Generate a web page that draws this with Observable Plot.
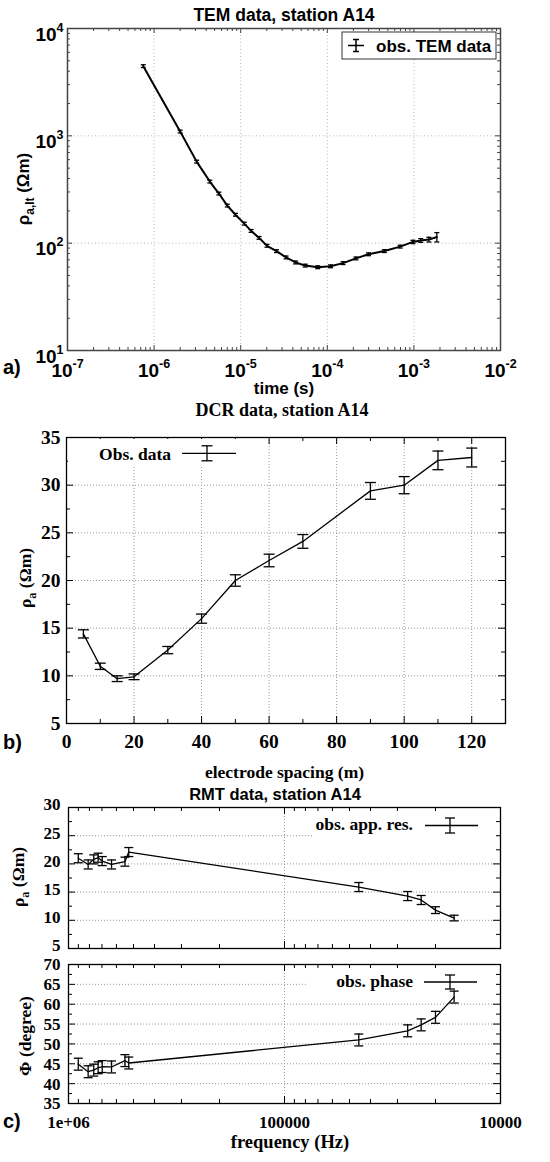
<!DOCTYPE html>
<html><head><meta charset="utf-8">
<script src="https://cdn.jsdelivr.net/npm/d3@7"></script>
<script src="https://cdn.jsdelivr.net/npm/@observablehq/plot@0.6"></script>
<style>
body{margin:0;background:#fff;}
#wrap{position:relative;width:550px;height:1162px;overflow:hidden;background:#fff;}
#wrap svg{position:absolute;left:0;background:transparent;overflow:visible;}
</style></head><body><div id="wrap"></div>
<script>
// ---------- DATA ----------
// TEM: time (s), apparent late-time resistivity (Ohm m), relative error
const temTime = [7.5e-7, 2.0e-6, 3.1e-6, 4.4e-6, 5.6e-6, 7.0e-6, 8.7e-6, 1.10e-5, 1.32e-5, 1.63e-5, 2.01e-5, 2.59e-5, 3.34e-5, 4.30e-5, 5.55e-5, 7.76e-5, 1.09e-4, 1.52e-4, 2.14e-4, 2.99e-4, 4.56e-4, 6.95e-4, 9.75e-4, 1.20e-3, 1.49e-3, 1.84e-3];
const temRho  = [4460, 1096, 575, 375, 290, 224, 184, 152, 130, 112, 94.6, 84.3, 73.6, 66.1, 61.8, 59.7, 60.9, 65.2, 72.1, 78.8, 84.4, 92.9, 102.7, 106, 108, 114];
const temErr  = [0.03, 0.03, 0.03, 0.03, 0.03, 0.03, 0.03, 0.03, 0.03, 0.03, 0.03, 0.03, 0.03, 0.03, 0.03, 0.03, 0.03, 0.03, 0.03, 0.03, 0.03, 0.03, 0.035, 0.04, 0.05, 0.1];

// DCR: electrode spacing (m), apparent resistivity (Ohm m), error
const dcrSpacing = [5, 10, 15, 20, 30, 40, 50, 60, 70, 90, 100, 110, 120];
const dcrRho     = [14.4, 11.0, 9.7, 9.9, 12.7, 16.0, 20.0, 22.1, 24.1, 29.4, 30.0, 32.6, 32.9];
const dcrErr     = [0.43, 0.33, 0.3, 0.3, 0.38, 0.48, 0.6, 0.66, 0.72, 0.88, 0.9, 0.98, 0.99];

// RMT: frequency (Hz), apparent resistivity, phase
const rmtFreq     = [901000, 811000, 764000, 729000, 698000, 632000, 548000, 526000, 45300, 26900, 23300, 20000, 16400];
const rmtRho      = [21.0, 19.9, 20.8, 21.1, 20.5, 19.9, 20.4, 22.1, 15.9, 14.3, 13.6, 11.8, 10.4];
const rmtRhoErr   = [0.8, 0.8, 0.8, 0.8, 0.8, 0.8, 0.8, 0.8, 0.8, 0.8, 0.8, 0.6, 0.5];
const rmtPhase    = [44.9, 43.0, 43.4, 44.0, 44.3, 44.2, 45.8, 45.2, 51.0, 53.3, 54.8, 56.7, 61.8];
const rmtPhaseErr = [1.5, 1.5, 1.5, 1.5, 1.5, 1.5, 1.5, 1.5, 1.5, 1.5, 1.5, 1.5, 1.5];

// tick values
const temXExp = [-7, -2], temYExp = [1, 4];
const dcrXMajor = [0, 20, 40, 60, 80, 100, 120], dcrXMinor = [10, 30, 50, 70, 90, 110];
const dcrYMajor = [5, 10, 15, 20, 25, 30, 35], dcrYMinor = [7.5, 12.5, 17.5, 22.5, 27.5, 32.5];
const rmtXMajor = [1e6, 1e5, 1e4];
const resYMajor = [5, 10, 15, 20, 25, 30], resYMinor = [7.5, 12.5, 17.5, 22.5, 27.5];
const phYMajor = [35, 40, 45, 50, 55, 60, 65, 70], phYMinor = [37.5, 42.5, 47.5, 52.5, 57.5, 62.5, 67.5];

// ---------- HELPERS ----------
const wrap = document.getElementById("wrap");
const NS = "http://www.w3.org/2000/svg";
function place(svg, top){ svg.style.top = top + "px"; wrap.appendChild(svg); return svg; }
function logTicks(lo, hi){ const maj=[], min=[]; for(let e=lo;e<hi;e++){ maj.push(Math.pow(10,e)); for(let k=2;k<=9;k++) min.push(k*Math.pow(10,e)); } maj.push(Math.pow(10,hi)); return {maj, min}; }
const cap = {draw(ctx, size){ const r = Math.sqrt(size/Math.PI); ctx.moveTo(-r,0); ctx.lineTo(r,0); }};
function frameTicks(xMaj, xMin, yMaj, yMin, fw, fh, L, l, stroke){
  const o = {stroke, strokeWidth: 1};
  return [
    Plot.tickX(xMaj, {...o, insetTop: fh - L}), Plot.tickX(xMaj, {...o, insetBottom: fh - L}),
    Plot.tickX(xMin, {...o, insetTop: fh - l}), Plot.tickX(xMin, {...o, insetBottom: fh - l}),
    Plot.tickY(yMaj, {...o, insetRight: fw - L}), Plot.tickY(yMaj, {...o, insetLeft: fw - L}),
    Plot.tickY(yMin, {...o, insetRight: fw - l}), Plot.tickY(yMin, {...o, insetLeft: fw - l})
  ];
}
function errMarks(rows, x, y, w, r){
  return [
    Plot.ruleX(rows, {x, y1: "lo", y2: "hi", stroke: "black", strokeWidth: w}),
    Plot.dot(rows, {x, y: "lo", symbol: cap, r, stroke: "black", strokeWidth: w, fill: "none"}),
    Plot.dot(rows, {x, y: "hi", symbol: cap, r, stroke: "black", strokeWidth: w, fill: "none"})
  ];
}
function superscripts(svg, size, rise){
  svg.querySelectorAll('g[aria-label="x-axis tick label"] text, g[aria-label="y-axis tick label"] text').forEach(t => {
    const s = t.textContent, i = s.indexOf("^"); if (i < 0) return;
    while (t.firstChild) t.removeChild(t.firstChild);
    t.appendChild(document.createTextNode(s.slice(0, i)));
    const ts = document.createElementNS(NS, "tspan");
    ts.setAttribute("dy", -rise); ts.setAttribute("font-size", size + "px");
    ts.textContent = s.slice(i + 1); t.appendChild(ts);
  });
}
function shiftGroup(svg, label, dx, dy){
  svg.querySelectorAll(`g[aria-label="${label}"]`).forEach(g => {
    g.setAttribute("transform", (g.getAttribute("transform") || "") + ` translate(${dx},${dy})`);
  });
}

// ---------- PANEL A: TEM ----------
{
  const W = 550, H = 400, mL = 67, mR = 50, mT = 28, mB = 50;
  const fw = W - mL - mR, fh = H - mT - mB;
  const tx = logTicks(temXExp[0], temXExp[1]), ty = logTicks(temYExp[0], temYExp[1]);
  const rows = temTime.map((t, i) => ({t, rho: temRho[i], lo: temRho[i]*(1 - temErr[i]), hi: temRho[i]*(1 + temErr[i])}));
  const grid = {stroke: "#b5b5b5", strokeWidth: 1, strokeDasharray: "1,2.5"};
  const svg = Plot.plot({
    width: W, height: H, marginLeft: mL, marginRight: mR, marginTop: mT, marginBottom: mB,
    x: {type: "log", domain: [1e-7, 1e-2], axis: null},
    y: {type: "log", domain: [10, 1e4], axis: null},
    style: {fontFamily: "'Liberation Sans', Arial, sans-serif", fontSize: "19px", fontWeight: "bold", color: "black", background: "transparent", overflow: "visible"},
    marks: [
      Plot.ruleX(tx.maj.slice(1, -1), grid),
      Plot.ruleY(ty.maj.slice(1, -1), grid),
      ...frameTicks(tx.maj, tx.min, ty.maj, ty.min, fw, fh, 5, 3, "#444"),
      Plot.line(rows, {x: "t", y: "rho", stroke: "black", strokeWidth: 2}),
      ...errMarks(rows, "t", "rho", 1.3, 2.5),
      Plot.frame({stroke: "#444", strokeWidth: 1.5}),
      Plot.axisX(tx.maj, {anchor: "bottom", tickSize: 0, tickPadding: 13, label: null, tickFormat: d => "10^" + Math.round(Math.log10(d))}),
      Plot.axisY(ty.maj, {anchor: "left", tickSize: 0, tickPadding: 4, label: null, tickFormat: d => "10^" + Math.round(Math.log10(d))})
    ]
  });
  place(svg, 0);
  superscripts(svg, 12.5, 9);
  shiftGroup(svg, "y-axis tick label", 0, 6);
}

// ---------- PANEL B: DCR ----------
{
  const W = 550, H = 400, mL = 66, mR = 45, mT = 57, mB = 57;
  const fw = W - mL - mR, fh = H - mT - mB;
  const rows = dcrSpacing.map((a, i) => ({a, rho: dcrRho[i], lo: dcrRho[i] - dcrErr[i], hi: dcrRho[i] + dcrErr[i]}));
  const grid = {stroke: "#9a9a9a", strokeWidth: 1, strokeDasharray: "1,2"};
  const svg = Plot.plot({
    width: W, height: H, marginLeft: mL, marginRight: mR, marginTop: mT, marginBottom: mB,
    x: {type: "linear", domain: [0, 130], axis: null},
    y: {type: "linear", domain: [5, 35], axis: null},
    style: {fontFamily: "'Liberation Serif', 'Times New Roman', serif", fontSize: "19.5px", fontWeight: "bold", color: "black", background: "transparent", overflow: "visible"},
    marks: [
      Plot.ruleX(dcrXMajor.slice(1), grid),
      Plot.ruleY(dcrYMajor.slice(1, -1), grid),
      ...frameTicks(dcrXMajor, dcrXMinor, dcrYMajor, dcrYMinor, fw, fh, 7, 4, "black"),
      Plot.line(rows, {x: "a", y: "rho", stroke: "black", strokeWidth: 1.3}),
      ...errMarks(rows, "a", "rho", 1.3, 5.5),
      Plot.frame({stroke: "black", strokeWidth: 1.3}),
      Plot.axisX(dcrXMajor, {anchor: "bottom", tickSize: 0, tickPadding: 11, label: null}),
      Plot.axisY(dcrYMajor, {anchor: "left", tickSize: 0, tickPadding: 6, label: null})
    ]
  });
  place(svg, 380);
}

// ---------- PANEL C: RMT ----------
const rmtX = {type: "log", domain: [1e6, 1e4], axis: null};
const rmtMinor = logTicks(4, 6).min;
const serifStyle = {fontFamily: "'Liberation Serif', 'Times New Roman', serif", fontSize: "17px", fontWeight: "bold", color: "black", background: "transparent", overflow: "visible"};
const gridC = {stroke: "#9a9a9a", strokeWidth: 1, strokeDasharray: "1,2"};
{
  const W = 550, H = 180, mL = 68, mR = 50, mT = 27, mB = 12;
  const fw = W - mL - mR, fh = H - mT - mB;
  const rows = rmtFreq.map((f, i) => ({f, v: rmtRho[i], lo: rmtRho[i] - rmtRhoErr[i], hi: rmtRho[i] + rmtRhoErr[i]}));
  const svg = Plot.plot({
    width: W, height: H, marginLeft: mL, marginRight: mR, marginTop: mT, marginBottom: mB,
    x: rmtX, y: {type: "linear", domain: [5, 30], axis: null},
    style: serifStyle,
    marks: [
      Plot.ruleX([1e5], gridC),
      Plot.ruleY(resYMajor.slice(1, -1), gridC),
      ...frameTicks(rmtXMajor, rmtMinor, resYMajor, resYMinor, fw, fh, 7, 4, "black"),
      Plot.line(rows, {x: "f", y: "v", stroke: "black", strokeWidth: 1.3}),
      ...errMarks(rows, "f", "v", 1.3, 4.5),
      Plot.frame({stroke: "black", strokeWidth: 1.3}),
      Plot.axisY(resYMajor, {anchor: "left", tickSize: 0, tickPadding: 8, label: null})
    ]
  });
  place(svg, 780);
  shiftGroup(svg, "y-axis tick label", 0, -2.5);
}
{
  const W = 550, H = 212, mL = 68, mR = 50, mT = 14, mB = 59;
  const fw = W - mL - mR, fh = H - mT - mB;
  const rows = rmtFreq.map((f, i) => ({f, v: rmtPhase[i], lo: rmtPhase[i] - rmtPhaseErr[i], hi: rmtPhase[i] + rmtPhaseErr[i]}));
  const svg = Plot.plot({
    width: W, height: H, marginLeft: mL, marginRight: mR, marginTop: mT, marginBottom: mB,
    x: rmtX, y: {type: "linear", domain: [35, 70], axis: null},
    style: serifStyle,
    marks: [
      Plot.ruleX([1e5], gridC),
      Plot.ruleY(phYMajor.slice(1, -1), gridC),
      ...frameTicks(rmtXMajor, rmtMinor, phYMajor, phYMinor, fw, fh, 7, 4, "black"),
      Plot.line(rows, {x: "f", y: "v", stroke: "black", strokeWidth: 1.3}),
      ...errMarks(rows, "f", "v", 1.3, 4.5),
      Plot.frame({stroke: "black", strokeWidth: 1.3}),
      Plot.axisX(rmtXMajor, {anchor: "bottom", tickSize: 0, tickPadding: 12, label: null, tickFormat: d => d >= 1e6 ? "1e+06" : d3.format("d")(d)}),
      Plot.axisY(phYMajor, {anchor: "left", tickSize: 0, tickPadding: 8, label: null})
    ]
  });
  place(svg, 950);
  shiftGroup(svg, "y-axis tick label", 0, 0.5);
}

// ---------- OVERLAY: titles, axis labels, legends ----------
const ov = d3.select(wrap).append("svg").attr("width", 550).attr("height", 1162).style("top", "0px");
const SANS = "'Liberation Sans', Arial, sans-serif", SERIF = "'Liberation Serif', 'Times New Roman', serif";
function txt(x, y, s, fam, size, anchor = "middle"){
  return ov.append("text").attr("x", x).attr("y", y).attr("text-anchor", anchor)
    .attr("font-family", fam).attr("font-size", size).attr("font-weight", "bold").attr("fill", "black").text(s);
}
function ylab(x, y, main, sub, rest, fam, size){
  const t = ov.append("text").attr("transform", `translate(${x},${y}) rotate(-90)`).attr("text-anchor", "middle")
    .attr("font-family", fam).attr("font-size", size).attr("font-weight", "bold").attr("fill", "black");
  t.append("tspan").text(main);
  if (sub) { t.append("tspan").attr("dy", 5).attr("font-size", size * 0.7).text(sub); t.append("tspan").attr("dy", -5).text(rest); }
  else t.append("tspan").text(rest);
}
function legendSample(x1, x2, y, xe, h, r, w){
  ov.append("line").attr("x1", x1).attr("x2", x2).attr("y1", y).attr("y2", y).attr("stroke", "black").attr("stroke-width", w);
  ov.append("line").attr("x1", xe).attr("x2", xe).attr("y1", y - h).attr("y2", y + h).attr("stroke", "black").attr("stroke-width", w);
  ov.append("line").attr("x1", xe - r).attr("x2", xe + r).attr("y1", y - h).attr("y2", y - h).attr("stroke", "black").attr("stroke-width", w);
  ov.append("line").attr("x1", xe - r).attr("x2", xe + r).attr("y1", y + h).attr("y2", y + h).attr("stroke", "black").attr("stroke-width", w);
}
// panel a
txt(284, 21, "TEM data, station A14", SANS, 17.5);
txt(284, 394, "time (s)", SANS, 17);
ylab(29, 189, "ρ", "a,lt", " (Ωm)", SANS, 17);
txt(3, 374, "a)", SANS, 20, "start");
ov.append("rect").attr("x", 342).attr("y", 32).attr("width", 154).attr("height", 27).attr("fill", "white").attr("stroke", "#333").attr("stroke-width", 1);
legendSample(348, 364, 45.5, 356, 6, 3, 1.5);
txt(376, 52, "obs. TEM data", SANS, 17, "start");
// panel b
txt(282, 416, "DCR data, station A14", SERIF, 18);
txt(284.5, 778, "electrode spacing (m)", SERIF, 17.5);
ylab(31, 578, "ρ", "a", " (Ωm)", SERIF, 17.5);
txt(3, 749, "b)", SANS, 20, "start");
ov.append("rect").attr("x", 68).attr("y", 439).attr("width", 172).attr("height", 27).attr("fill", "white");
txt(171, 460, "Obs. data", SERIF, 17.5, "end");
legendSample(182, 236, 453.3, 207, 7.5, 5.5, 1.3);
// panel c
txt(275, 800, "RMT data, station A14", SANS, 16.5);
ov.append("rect").attr("x", 313).attr("y", 814).attr("width", 183).attr("height", 26).attr("fill", "white");
txt(413, 830, "obs. app. res.", SERIF, 17.5, "end");
legendSample(425, 478, 825.5, 450, 7.5, 5, 1.3);
ylab(24, 877, "ρ", "a", " (Ωm)", SERIF, 17.5);
ov.append("rect").attr("x", 308).attr("y", 971).attr("width", 188).attr("height", 18).attr("fill", "white");
txt(413, 987, "obs. phase", SERIF, 17.5, "end");
legendSample(424, 477, 982, 450, 7, 5, 1.3);
ylab(31, 1036, "Φ", null, " (degree)", SERIF, 17.5);
txt(3, 1128, "c)", SANS, 20, "start");
txt(290, 1148, "frequency (Hz)", SERIF, 18.5);
</script></body></html>
